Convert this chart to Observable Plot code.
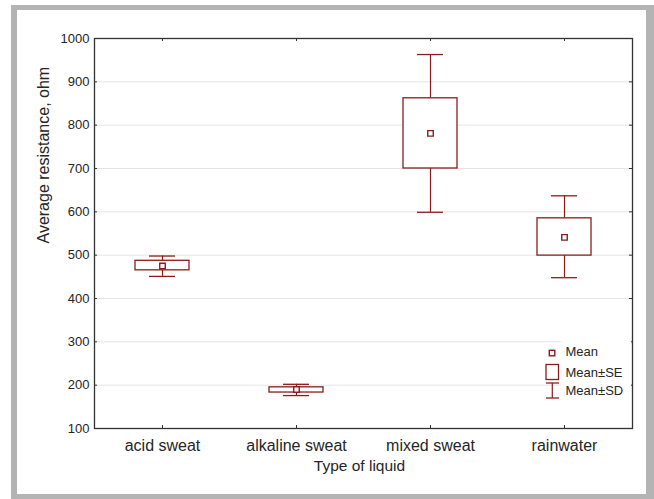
<!DOCTYPE html>
<html><head><meta charset="utf-8">
<script src="https://cdn.jsdelivr.net/npm/d3@7"></script>
<script src="https://cdn.jsdelivr.net/npm/@observablehq/plot@0.6"></script>
<style>
html,body{margin:0;padding:0;background:#fff;}
#wrap{position:relative;width:654px;height:499px;overflow:hidden;font-family:"Liberation Sans",Arial,sans-serif;}
#frame{position:absolute;left:11px;top:5px;width:643px;height:494px;box-sizing:border-box;border-style:solid;border-color:#b4b4b4;border-width:5px 8px 5px 6px;pointer-events:none;}
#chart{position:absolute;left:0;top:0;}
</style></head><body>
<div id="wrap"><div id="chart"></div><div id="frame"></div></div>
<script>
const categories = ["acid sweat", "alkaline sweat", "mixed sweat", "rainwater"];
const means  = [475, 190, 781, 541];
const seLow  = [465, 183, 700, 499];
const seHigh = [487, 195, 862, 585];
const sdLow  = [451, 176, 599, 448];
const sdHigh = [498, 202, 963, 637];
const yTicks = [100, 200, 300, 400, 500, 600, 700, 800, 900, 1000];
const legendLabels = ["Mean", "Mean\u00B1SE", "Mean\u00B1SD"];

const data = categories.map((c, i) => ({
  cat: c, mean: means[i], seLow: seLow[i], seHigh: seHigh[i], sdLow: sdLow[i], sdHigh: sdHigh[i]
}));

const RED = "#8b1c1c";
const TXT = "#262626";
const W = 654, H = 499, ML = 94, MR = 22, MT = 38, MB = 71;
const PW = W - ML - MR, PH = H - MT - MB;

const plot = Plot.plot({
  width: W, height: H,
  marginLeft: ML, marginRight: MR, marginTop: MT, marginBottom: MB,
  style: {fontFamily: '"Liberation Sans", Arial, sans-serif', color: TXT, background: "transparent"},
  x: {type: "band", domain: categories, padding: 0, label: null},
  y: {domain: [100, 1000], label: null},
  marks: [
    Plot.ruleY(yTicks.slice(1, -1), {y: d => d, stroke: "#e4e4e4", strokeWidth: 1}),
    Plot.ruleX(data, {x: "cat", y1: "sdLow", y2: "seLow", stroke: RED, strokeWidth: 1.2}),
    Plot.ruleX(data, {x: "cat", y1: "seHigh", y2: "sdHigh", stroke: RED, strokeWidth: 1.2}),
    Plot.tickY(data, {x: "cat", y: "sdLow", insetLeft: 54, insetRight: 54, stroke: RED, strokeWidth: 1.3}),
    Plot.tickY(data, {x: "cat", y: "sdHigh", insetLeft: 54, insetRight: 54, stroke: RED, strokeWidth: 1.3}),
    Plot.barY(data, {x: "cat", y1: "seLow", y2: "seHigh", insetLeft: 40, insetRight: 40, fill: "white", stroke: RED, strokeWidth: 1.3}),
    Plot.dot(data, {x: "cat", y: "mean", symbol: "square", r: 3.1, fill: "white", stroke: RED, strokeWidth: 1.4}),
    Plot.tickY(yTicks, {y: d => d, insetRight: PW - 3, stroke: "#333"}),
    Plot.tickY(yTicks, {y: d => d, insetLeft: PW - 3, stroke: "#333"}),
    Plot.tickX(categories, {x: d => d, insetTop: PH - 3, stroke: "#333"}),
    Plot.tickX(categories, {x: d => d, insetBottom: PH - 3, stroke: "#333"}),
    Plot.frame({stroke: "#333", strokeWidth: 1.3}),
    Plot.axisY({ticks: yTicks, tickSize: 0, tickPadding: 5, fontSize: 13, label: null, tickFormat: d => String(d)}),
    Plot.axisX({tickSize: 0, tickPadding: 11, fontSize: 16, label: null}),
    Plot.text(["Average resistance, ohm"], {frameAnchor: "left", rotate: -90, dx: -51, dy: 10, fontSize: 16, fill: TXT}),
    Plot.text(["Type of liquid"], {frameAnchor: "bottom", dx: -4, dy: 42, fontSize: 15.5, fill: TXT})
  ]
});
document.getElementById("chart").appendChild(plot);

// legend
const svg = d3.select(plot);
const g = svg.append("g").attr("text-anchor", "start");
g.append("rect").attr("x", 561).attr("y", 340).attr("width", 70).attr("height", 61).attr("fill", "white");
g.append("rect").attr("x", 549.3).attr("y", 350.3).attr("width", 5.5).attr("height", 5.5)
  .attr("fill", "white").attr("stroke", RED).attr("stroke-width", 1.4);
g.append("rect").attr("x", 546).attr("y", 364.5).attr("width", 12.5).attr("height", 15)
  .attr("fill", "white").attr("stroke", RED).attr("stroke-width", 1.3);
g.append("line").attr("x1", 552.3).attr("x2", 552.3).attr("y1", 383).attr("y2", 398).attr("stroke", RED).attr("stroke-width", 1.2);
g.append("line").attr("x1", 546).attr("x2", 559).attr("y1", 383).attr("y2", 383).attr("stroke", RED).attr("stroke-width", 1.3);
g.append("line").attr("x1", 546).attr("x2", 559).attr("y1", 398).attr("y2", 398).attr("stroke", RED).attr("stroke-width", 1.3);
const ly = [351.7, 372.7, 390.3];
legendLabels.forEach((t, i) => {
  g.append("text").attr("x", 565.5).attr("y", ly[i]).attr("dy", "0.35em")
    .attr("text-anchor", "start").attr("font-size", 13).attr("fill", TXT).text(t);
});
</script>
</body></html>
